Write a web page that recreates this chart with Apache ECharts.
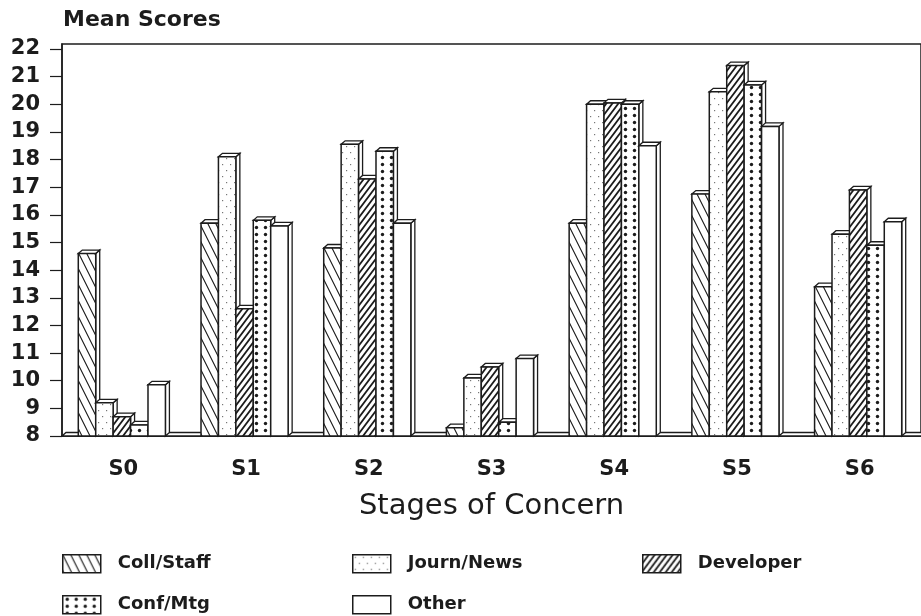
<!DOCTYPE html>
<html>
<head>
<meta charset="utf-8">
<script src="https://cdn.jsdelivr.net/npm/echarts@6/dist/echarts.min.js"></script>
<style>
  html, body { margin: 0; padding: 0; background: #fff; }
  #chart { width: 921px; height: 616px; }
</style>
</head>
<body>
<div id="chart"></div>
<script>
// Mean scores per stage of concern, by information source
const stages = ['S0', 'S1', 'S2', 'S3', 'S4', 'S5', 'S6'];
const collStaff = [14.6, 15.7, 14.8, 8.3, 15.7, 16.75, 13.4];
const journNews = [9.2, 18.1, 18.55, 10.1, 20.0, 20.45, 15.3];
const developer = [8.7, 12.6, 17.3, 10.5, 20.05, 21.4, 16.9];
const confMtg = [8.4, 15.8, 18.3, 8.5, 20.0, 20.7, 14.9];
const other = [9.85, 15.6, 15.7, 10.8, 18.5, 19.2, 15.75];
const scoreTicks = [8, 9, 10, 11, 12, 13, 14, 15, 16, 17, 18, 19, 20, 21, 22];
const sourceNames = ['Coll/Staff', 'Journ/News', 'Developer', 'Conf/Mtg', 'Other'];
const sourceValues = [collStaff, journNews, developer, confMtg, other];

const INK = '#1c1c1c';
const FONT = 'DejaVu Sans';
const DX = 4, DY = 3.5; // depth of the 3D faces

// Small canvas tiles used as fill patterns
function tile(w, h, draw) {
  const c = document.createElement('canvas');
  c.width = w; c.height = h;
  const g = c.getContext('2d');
  g.fillStyle = '#fff';
  g.fillRect(0, 0, w, h);
  draw(g, w, h);
  return { image: c, repeat: 'repeat' };
}
function lines(g, segs, width) {
  g.strokeStyle = INK;
  g.lineWidth = width;
  g.lineCap = 'square';
  g.beginPath();
  segs.forEach(s => { g.moveTo(s[0], s[1]); g.lineTo(s[2], s[3]); });
  g.stroke();
}
const patterns = [
  // back-slanted thin hatching
  tile(8, 16, (g, w, h) => lines(g, [[0, 0, w, h], [-w, 0, 0, h], [w, 0, 2 * w, h]], 1.1)),
  // sparse light dots
  tile(8, 12, (g) => { g.fillStyle = '#777'; g.fillRect(2, 2, 1.2, 1.2); g.fillRect(6, 8, 1.2, 1.2); }),
  // dense forward hatching
  tile(6, 8, (g, w, h) => lines(g, [[0, h, w, 0], [-w, h, 0, 0], [w, h, 2 * w, 0]], 1.8)),
  // bold dots
  tile(9, 7, (g) => { g.fillStyle = INK; g.beginPath(); g.arc(4.5, 3.5, 1.7, 0, Math.PI * 2); g.fill(); }),
  // plain
  '#ffffff'
];

function barRenderer(slot) {
  return function (params, api) {
    const cat = api.value(0);
    const v = api.value(1);
    const top = api.coord([cat, v]);
    const base = api.coord([cat, scoreTicks[0]]);
    const band = api.size([1, 0])[0];
    const bw = band * 0.142;
    const x0 = top[0] - 2.5 * bw + slot * bw - 1.5;
    const x1 = x0 + bw;
    const yT = top[1], yB = base[1];
    const edge = { fill: '#fff', stroke: INK, lineWidth: 1.3 };
    return {
      type: 'group',
      children: [
        { type: 'polygon', shape: { points: [[x1, yB], [x1, yT], [x1 + DX, yT - DY], [x1 + DX, yB - DY]] }, style: edge },
        { type: 'polygon', shape: { points: [[x0, yT], [x0 + DX, yT - DY], [x1 + DX, yT - DY], [x1, yT]] }, style: edge },
        { type: 'rect', shape: { x: x0, y: yT, width: bw, height: yB - yT }, style: { fill: patterns[slot], stroke: INK, lineWidth: 1.5 } }
      ]
    };
  };
}

function floorRenderer(params, api) {
  const cs = params.coordSys;
  const yB = api.coord([0, scoreTicks[0]])[1];
  return {
    type: 'polygon',
    shape: { points: [[cs.x, yB], [cs.x + DX, yB - DY], [cs.x + cs.width + DX, yB - DY], [cs.x + cs.width, yB]] },
    style: { fill: '#fff', stroke: INK, lineWidth: 1.3 }
  };
}

const series = [{
  type: 'custom',
  name: 'floor',
  renderItem: floorRenderer,
  data: [[0, scoreTicks[0]]],
  z: 1,
  silent: true
}];
sourceNames.forEach((name, i) => {
  series.push({
    type: 'custom',
    name: name,
    renderItem: barRenderer(i),
    itemStyle: { color: patterns[i], borderColor: INK, borderWidth: 1.5 },
    data: sourceValues[i].map((v, k) => [k, v]),
    encode: { x: 0, y: 1 },
    z: 2
  });
});

// Legend positions: three columns, two rows
const legendSpots = [[62, 554], [352, 554], [642, 554], [62, 595], [352, 595]];
const legends = sourceNames.map((name, i) => ({
  left: legendSpots[i][0],
  top: legendSpots[i][1],
  padding: 0,
  itemWidth: 38,
  itemHeight: 18,
  selectedMode: false,
  textStyle: { fontFamily: FONT, fontWeight: 'bold', fontSize: 18, color: INK, padding: [0, 0, 0, 12] },
  data: [{ name: name, icon: 'rect', itemStyle: { color: patterns[i], borderColor: INK, borderWidth: 1.5 } }]
}));

const chart = echarts.init(document.getElementById('chart'), null, { renderer: 'canvas' });
chart.setOption({
  animation: false,
  backgroundColor: '#fff',
  title: {
    text: 'Mean Scores',
    left: 63,
    top: 9,
    padding: 0,
    textStyle: { fontFamily: FONT, fontWeight: 'bold', fontSize: 22, color: INK }
  },
  legend: legends,
  grid: {
    left: 62,
    top: 44,
    width: 866,
    bottom: 180,
    show: true,
    borderColor: INK,
    borderWidth: 1.5,
    backgroundColor: 'transparent'
  },
  xAxis: {
    type: 'category',
    data: stages,
    axisLine: { lineStyle: { color: INK, width: 1.5 } },
    axisTick: { alignWithLabel: true, length: 9, lineStyle: { color: INK, width: 1.2 } },
    axisLabel: { margin: 23, fontFamily: FONT, fontWeight: 'bold', fontSize: 21, color: INK },
    name: 'Stages of Concern',
    nameLocation: 'middle',
    nameGap: 56,
    nameTextStyle: { fontFamily: FONT, fontSize: 29, color: INK }
  },
  yAxis: {
    type: 'value',
    min: scoreTicks[0],
    max: 22.18,
    splitLine: { show: false },
    axisLine: { show: true, lineStyle: { color: INK, width: 1.5 } },
    axisTick: { show: true, length: 12, customValues: scoreTicks, lineStyle: { color: INK, width: 1.2 } },
    axisLabel: { margin: 22, customValues: scoreTicks, fontFamily: FONT, fontWeight: 'bold', fontSize: 21, color: INK }
  },
  series: series
});
</script>
</body>
</html>
